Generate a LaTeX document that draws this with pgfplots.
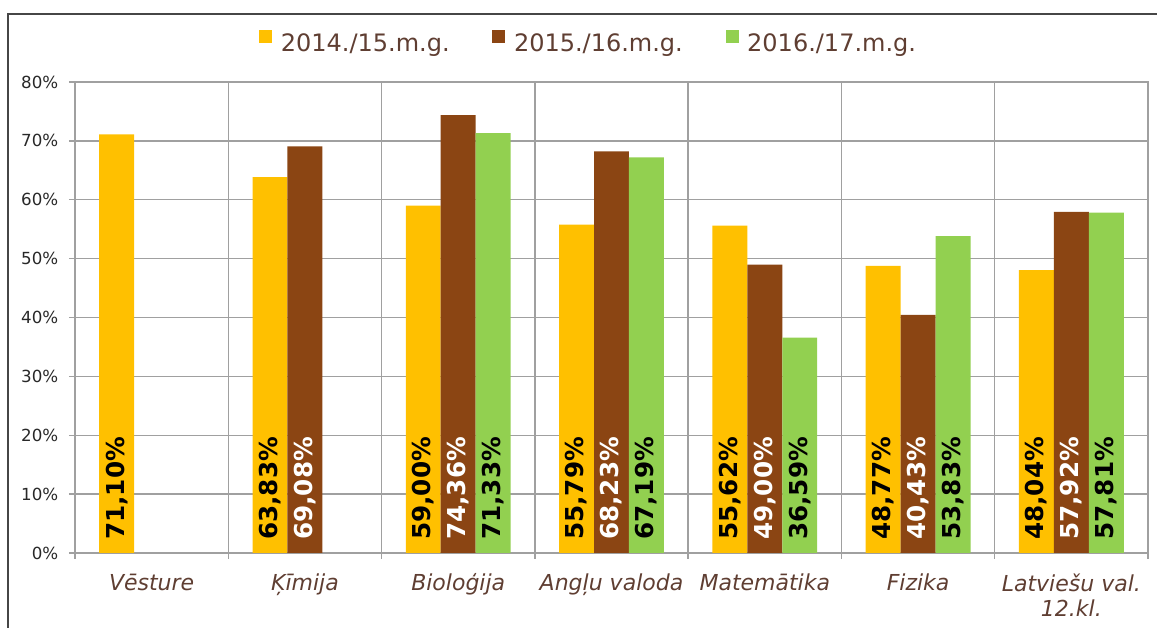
\documentclass[border=0pt]{standalone}
\usepackage{fontspec}
\setmainfont{DejaVu Sans}
\usepackage{pgfplots}
\pgfplotsset{compat=1.18}
\definecolor{cY}{HTML}{FFC000}
\definecolor{cB}{HTML}{8B4513}
\definecolor{cG}{HTML}{92D050}
\definecolor{txt}{RGB}{95,62,50}
\definecolor{gridc}{RGB}{160,160,160}
\definecolor{framec}{RGB}{70,70,70}
\definecolor{tickc}{RGB}{40,40,40}
\pgfplotsset{
  mybar/.style={ybar, bar width=0.228, draw=none,
    legend image code/.code={\fill[##1] (0pt,0pt) rectangle (9.75pt,9.75pt);}},
  mylab/.style={draw=none, mark=none, forget plot,
    point meta=explicit,
    nodes near coords={\pgfmathprintnumber[fixed,fixed zerofill,precision=2,use comma]{\pgfplotspointmeta}\%},
    every node near coord/.append style={rotate=90, anchor=west, inner xsep=9.75pt,
      font=\bfseries\fontsize{18.5}{20}\selectfont}},
}
\begin{document}
\begin{tikzpicture}
\useasboundingbox (0,0) rectangle (867.75pt,471pt);
\draw[line width=1.5pt, framec] (6pt,0) -- (6pt,460.5pt) -- (870pt,460.5pt);
\begin{axis}[
  at={(56.25pt,56.25pt)}, anchor=south west,
  scale only axis, width=804.75pt, height=353.25pt,
  xmin=-0.5, xmax=6.5, ymin=0, ymax=80,
  ytick={0,10,...,80},
  yticklabel={\pgfmathprintnumber{\tick}\%},
  /pgf/number format/assume math mode=true,
  xtick={0,...,6},
  xticklabels={Vēsture, Ķīmija, Bioloģija, Angļu valoda, Matemātika, Fizika, {Latviešu val.\\12.kl.}},
  minor xtick={-0.5,0.5,...,6.5},
  xminorgrids=true, ymajorgrids=true, xmajorgrids=false,
  grid style={gridc, line width=1pt},
  minor grid style={gridc, line width=1pt},
  axis line style={gridc, line width=1pt},
  tick align=outside,
  major tick length=4.5pt, minor tick length=4.5pt,
  tick style={gridc, line width=1pt},
  major x tick style={draw=none},
  xtick pos=bottom, ytick pos=left,
  yticklabel style={font=\fontsize{12.5}{14}\selectfont, text=tickc, xshift=-4.5pt},
  xticklabel style={font=\itshape\fontsize{16.5}{19}\selectfont, text=txt, align=center, yshift=-7.5pt},
  legend style={at={(0.479,1.083)}, anchor=center, draw=none, fill=none,
    legend columns=3, font=\fontsize{18}{20}\selectfont, text=txt,
    /tikz/every odd column/.append style={column sep=4.5pt},
    /tikz/every even column/.append style={column sep=30pt}},
]
\addplot[mybar, fill=cY, bar shift=-0.228] coordinates {(0,71.10) (1,63.83) (2,59.00) (3,55.79) (4,55.62) (5,48.77) (6,48.04)};
\addlegendentry{2014./15.m.g.}
\addplot[mybar, fill=cB, bar shift=0] coordinates {(1,69.08) (2,74.36) (3,68.23) (4,49.00) (5,40.43) (6,57.92)};
\addlegendentry{2015./16.m.g.}
\addplot[mybar, fill=cG, bar shift=0.228] coordinates {(2,71.33) (3,67.19) (4,36.59) (5,53.83) (6,57.81)};
\addlegendentry{2016./17.m.g.}
\addplot[mylab, every node near coord/.append style={text=black}] table[x expr=\thisrow{x}-0.228, y expr=0, meta=v] {
x v
0 71.10
1 63.83
2 59.00
3 55.79
4 55.62
5 48.77
6 48.04
};
\addplot[mylab, every node near coord/.append style={text=white}] table[x expr=\thisrow{x}, y expr=0, meta=v] {
x v
1 69.08
2 74.36
3 68.23
4 49.00
5 40.43
6 57.92
};
\addplot[mylab, every node near coord/.append style={text=black}] table[x expr=\thisrow{x}+0.228, y expr=0, meta=v] {
x v
2 71.33
3 67.19
4 36.59
5 53.83
6 57.81
};
\end{axis}
\end{tikzpicture}
\end{document}
